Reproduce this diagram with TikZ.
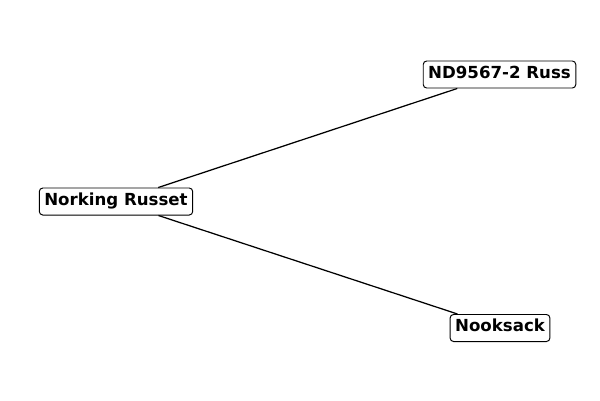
\documentclass[tikz,border=0pt]{standalone}
\usepackage{fontspec}
\setmainfont{DejaVu Sans}
\usepackage{tikz}
\tikzset{
    cultivar/.style={draw, fill=white, rounded corners=2.5pt, line width=0.7pt,
        font=\fontsize{12}{14}\selectfont\bfseries, inner xsep=3.6pt, inner ysep=0pt,
        minimum height=0.27in, text height=0.76em, text depth=0.2em}
}

\begin{document}
\begin{tikzpicture}[x=0.01in, y=-0.01in]
\useasboundingbox (0,0) rectangle (600,400);
% cultivars
\node[cultivar] (norking) at (116,201.5) {Norking Russet};
\node[cultivar] (nd) at (499.5,74.5) {ND9567-2 Russ};
\node[cultivar] (nooksack) at (500,328) {Nooksack};
% links
\begin{scope}[line width=0.9pt]
\draw (norking) -- (nd);
\draw (norking) -- (nooksack);
\end{scope}
\end{tikzpicture}
\end{document}
